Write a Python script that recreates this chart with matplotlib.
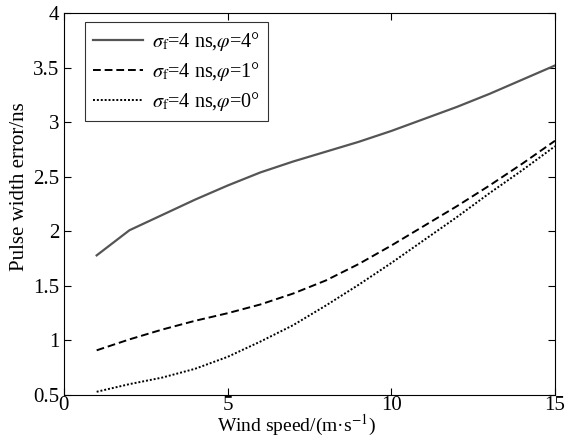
import numpy as np
import matplotlib

matplotlib.use("Agg")
import matplotlib.pyplot as plt

plt.rcParams["font.family"] = ["Liberation Serif", "DejaVu Serif"]
plt.rcParams["mathtext.fontset"] = "stix"

wind = [1, 2, 3, 4, 5, 6, 7, 8, 9, 10, 11, 12, 13, 14, 15]
err_phi4 = [1.78, 2.01, 2.15, 2.29, 2.42, 2.54, 2.64, 2.73, 2.82, 2.92, 3.03, 3.14, 3.26, 3.39, 3.52]
err_phi1 = [0.91, 1.01, 1.10, 1.18, 1.25, 1.33, 1.43, 1.55, 1.70, 1.87, 2.05, 2.23, 2.42, 2.62, 2.83]
err_phi0 = [0.53, 0.60, 0.66, 0.74, 0.85, 0.99, 1.14, 1.32, 1.51, 1.71, 1.92, 2.13, 2.35, 2.56, 2.78]

labels = [
    r"$\sigma_{\mathrm{f}}$=4 ns,$\varphi$=4°",
    r"$\sigma_{\mathrm{f}}$=4 ns,$\varphi$=1°",
    r"$\sigma_{\mathrm{f}}$=4 ns,$\varphi$=0°",
]

fig = plt.figure(figsize=(5.76, 4.37), dpi=100)
ax = fig.add_axes([0.111, 0.096, 0.8525, 0.874])

ax.plot(wind, err_phi4, color="#555555", linewidth=1.6, linestyle="-", label=labels[0])
ax.plot(wind, err_phi1, color="black", linewidth=1.4, linestyle=(0, (4, 2)), label=labels[1])
ax.plot(wind, err_phi0, color="black", linewidth=1.4, linestyle=(0, (1, 1)), label=labels[2])

ax.set_xlim(0, 15)
ax.set_ylim(0.5, 4)
ax.set_xticks([0, 5, 10, 15])
ax.set_yticks([0.5, 1, 1.5, 2, 2.5, 3, 3.5, 4])
ax.set_yticklabels(["0.5", "1", "1.5", "2", "2.5", "3", "3.5", "4"])
ax.tick_params(direction="in", top=True, right=True, labelsize=15, length=5, width=0.8)
ax.tick_params(axis="x", pad=1)
for s in ax.spines.values():
    s.set_linewidth(0.8)

ax.set_xlabel("Wind speed/(m·s$^{-1}$)", fontsize=14)
ax.xaxis.set_label_coords(0.4745, -0.046)
ax.set_ylabel("Pulse width error/ns", fontsize=15)
ax.yaxis.set_label_coords(-0.072, 0.545)

leg = ax.legend(loc="upper left", bbox_to_anchor=(0.043, 0.976), borderaxespad=0,
                fontsize=14.5, frameon=True, fancybox=False,
                edgecolor="black", handlelength=2.5,
                labelspacing=0.35, handletextpad=0.4)
leg.get_frame().set_linewidth(0.8)

fig.savefig("out.png", dpi=100)
